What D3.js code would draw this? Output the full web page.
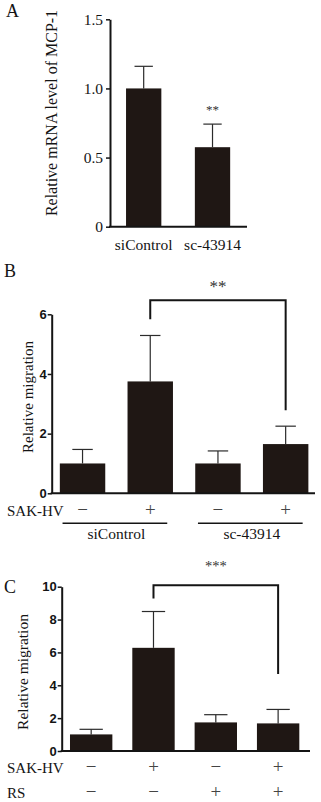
<!DOCTYPE html>
<html>
<head>
<meta charset="utf-8">
<script src="https://cdn.jsdelivr.net/npm/d3@7"></script>
<style>
  body { margin: 0; background: #fff; }
  svg { display: block; }
</style>
</head>
<body>
<div id="chart"></div>
<script>
// ---- data ----
const panelACategories = ["siControl", "sc-43914"]
const panelAMeans = [1.0, 0.575]
const panelAErrors = [0.16, 0.167]
const panelATicks = [0, 0.5, 1.0, 1.5]
const panelAStars = ["", "**"]

const panelBCategories = ["siControl −", "siControl +", "sc-43914 −", "sc-43914 +"]
const panelBMeans = [1.0, 3.75, 1.0, 1.65]
const panelBErrors = [0.47, 1.54, 0.42, 0.6]
const panelBTicks = [0, 2, 4, 6]
const panelBSakHv = ["−", "+", "−", "+"]
const panelBGroups = ["siControl", "sc-43914"]
const panelBComparison = [1, 3, "**"]

const panelCCategories = ["ctrl", "SAK-HV", "RS", "SAK-HV + RS"]
const panelCMeans = [1.01, 6.28, 1.74, 1.68]
const panelCErrors = [0.31, 2.21, 0.47, 0.85]
const panelCTicks = [0, 2, 4, 6, 8, 10]
const panelCSakHv = ["−", "+", "−", "+"]
const panelCRs = ["−", "−", "+", "+"]
const panelCComparison = [1, 3, "***"]

// ---- style ----
const WIDTH = 321
const HEIGHT = 802
const BAR_COLOR = "#1f1714"
const INK = "#141414"
const SERIF = "'Liberation Serif', 'Times New Roman', serif"
const SANS = "'Liberation Sans', Arial, sans-serif"

const svg = d3.select("#chart")
              .append("svg")
              .attr("width", WIDTH)
              .attr("height", HEIGHT)

function drawBars(p) {
  const g = svg.append("g")

  const x = d3.scaleBand()
              .domain(p.categories)
              .range(p.xRange)
              .paddingInner(p.padInner)
              .paddingOuter(p.padOuter)
  const y = d3.scaleLinear()
              .domain([0, d3.max(p.ticks)])
              .range([p.bottom, p.top])
  const bw = x.bandwidth()
  const cx = i => x(p.categories[i]) + bw / 2

  // error bars (upper only)
  const err = g.selectAll("g.err")
               .data(p.means)
               .join("g")
               .attr("class", "err")
               .attr("stroke", "#2b2b2b")
               .attr("stroke-width", 1.2)
  err.append("line")
     .attr("x1", (d, i) => cx(i))
     .attr("x2", (d, i) => cx(i))
     .attr("y1", d => y(d))
     .attr("y2", (d, i) => y(d + p.errors[i]))
  err.append("line")
     .attr("x1", (d, i) => cx(i) - bw * p.cap / 2)
     .attr("x2", (d, i) => cx(i) + bw * p.cap / 2)
     .attr("y1", (d, i) => y(d + p.errors[i]))
     .attr("y2", (d, i) => y(d + p.errors[i]))

  g.selectAll("rect.bar")
   .data(p.means)
   .join("rect")
   .attr("class", "bar")
   .attr("x", (d, i) => x(p.categories[i]))
   .attr("y", d => y(d))
   .attr("width", bw)
   .attr("height", d => y(0) - y(d))
   .attr("fill", BAR_COLOR)

  // y axis
  const yAxis = g.append("g")
                 .attr("transform", `translate(${p.axisX}, 0)`)
                 .call(d3.axisLeft(y)
                         .tickValues(p.ticks)
                         .tickFormat(p.tickFormat)
                         .tickSize(4)
                         .tickSizeOuter(0)
                         .tickPadding(p.tickPadding))
  yAxis.attr("font-family", p.tickFont)
       .attr("font-size", p.tickSize)
       .attr("font-weight", p.tickWeight)
       .style("color", INK)
  yAxis.select(".domain").attr("stroke-width", 2)
  yAxis.selectAll(".tick line").attr("stroke-width", 1.5)

  // x axis line
  g.append("line")
   .attr("x1", p.axisX - 1)
   .attr("x2", p.axisEnd)
   .attr("y1", y(0))
   .attr("y2", y(0))
   .attr("stroke", INK)
   .attr("stroke-width", 2)

  // y label
  g.append("text")
   .attr("transform", `translate(${p.labelX}, ${p.labelY}) rotate(-90)`)
   .attr("text-anchor", "middle")
   .attr("font-family", SERIF)
   .attr("font-size", p.labelSize)
   .attr("fill", INK)
   .text(p.yLabel)

  // panel letter
  g.append("text")
   .attr("x", p.letterX)
   .attr("y", p.letterY)
   .attr("font-family", SERIF)
   .attr("font-size", 18)
   .attr("fill", INK)
   .text(p.letter)

  return { g, x, y, cx, bw }
}

function drawBracket(panel, comparison, pos) {
  const { g, y, cx } = panel
  const [from, to, label] = comparison
  g.append("path")
   .attr("d", `M${cx(from)},${y(pos.leftEnd)}V${y(pos.top)}H${cx(to)}V${y(pos.rightEnd)}`)
   .attr("fill", "none")
   .attr("stroke", INK)
   .attr("stroke-width", 2)
  g.append("text")
   .attr("x", (cx(from) + cx(to)) / 2)
   .attr("y", pos.starY)
   .attr("text-anchor", "middle")
   .attr("font-family", SERIF)
   .attr("font-size", pos.starSize)
   .attr("fill", "#333")
   .text(label)
}

function drawRow(panel, title, signs, baseline) {
  const { g, cx } = panel
  g.append("text")
   .attr("x", 7)
   .attr("y", baseline)
   .attr("font-family", SERIF)
   .attr("font-size", 15)
   .attr("fill", INK)
   .text(title)
  g.selectAll(null)
   .data(signs)
   .join("text")
   .attr("x", (d, i) => cx(i))
   .attr("y", baseline)
   .attr("text-anchor", "middle")
   .attr("font-family", SERIF)
   .attr("font-size", 19)
   .attr("fill", "#444")
   .text(d => d)
}

// ---- panel A ----
const panelA = drawBars({
  categories: panelACategories, means: panelAMeans, errors: panelAErrors, ticks: panelATicks,
  xRange: [110, 246.2], padInner: 0.487, padOuter: 0.233, cap: 0.52,
  top: 19.3, bottom: 226.7, axisX: 110, axisEnd: 247,
  tickFormat: d => d === 0 ? "0" : d3.format(".1f")(d), tickFont: SERIF, tickSize: 15.5,
  tickWeight: "normal", tickPadding: 3,
  yLabel: "Relative mRNA level of MCP-1", labelX: 57, labelY: 113, labelSize: 16,
  letter: "A", letterX: 6, letterY: 17
})
panelA.g.selectAll(null)
       .data(panelACategories)
       .join("text")
       .attr("x", (d, i) => panelA.cx(i))
       .attr("y", 250)
       .attr("text-anchor", "middle")
       .attr("font-family", SERIF)
       .attr("font-size", 15.5)
       .attr("fill", INK)
       .text(d => d)
panelA.g.selectAll(null)
       .data(panelAStars)
       .join("text")
       .attr("x", (d, i) => panelA.cx(i))
       .attr("y", (d, i) => panelA.y(panelAMeans[i] + panelAErrors[i]) - 10)
       .attr("text-anchor", "middle")
       .attr("font-family", SERIF)
       .attr("font-size", 13)
       .attr("fill", "#333")
       .text(d => d)

// ---- panel B ----
const panelB = drawBars({
  categories: panelBCategories, means: panelBMeans, errors: panelBErrors, ticks: panelBTicks,
  xRange: [51.7, 316.5], padInner: 0.329, padOuter: 0.12, cap: 0.45,
  top: 314.3, bottom: 493.3, axisX: 51.7, axisEnd: 315,
  tickFormat: d3.format("d"), tickFont: SANS, tickSize: 13,
  tickWeight: "bold", tickPadding: 1,
  yLabel: "Relative migration", labelX: 33, labelY: 397, labelSize: 15,
  letter: "B", letterX: 4, letterY: 277
})
drawBracket(panelB, panelBComparison,
            { leftEnd: 5.83, top: 6.47, rightEnd: 2.78, starY: 292, starSize: 17 })
drawRow(panelB, "SAK-HV", panelBSakHv, 515.5)
panelBGroups.forEach((name, k) => {
  const first = panelB.cx(2 * k)
  const last = panelB.cx(2 * k + 1)
  panelB.g.append("line")
        .attr("x1", first - 20)
        .attr("x2", last + 17)
        .attr("y1", 523.3)
        .attr("y2", 523.3)
        .attr("stroke", INK)
        .attr("stroke-width", 1.5)
  panelB.g.append("text")
        .attr("x", (first + last) / 2)
        .attr("y", 539)
        .attr("text-anchor", "middle")
        .attr("font-family", SERIF)
        .attr("font-size", 15.5)
        .attr("fill", INK)
        .text(name)
})

// ---- panel C ----
const panelC = drawBars({
  categories: panelCCategories, means: panelCMeans, errors: panelCErrors, ticks: panelCTicks,
  xRange: [61.7, 307.6], padInner: 0.32, padOuter: 0.133, cap: 0.55,
  top: 586.7, bottom: 751, axisX: 61.7, axisEnd: 310,
  tickFormat: d3.format("d"), tickFont: SANS, tickSize: 13,
  tickWeight: "bold", tickPadding: 1,
  yLabel: "Relative migration", labelX: 28, labelY: 672, labelSize: 15.5,
  letter: "C", letterX: 4, letterY: 593
})
drawBracket(panelC, panelCComparison,
            { leftEnd: 9.28, top: 10.09, rightEnd: 4.68, starY: 571, starSize: 14.5 })
drawRow(panelC, "SAK-HV", panelCSakHv, 772.5)
drawRow(panelC, "RS", panelCRs, 797.5)
</script>
</body>
</html>
